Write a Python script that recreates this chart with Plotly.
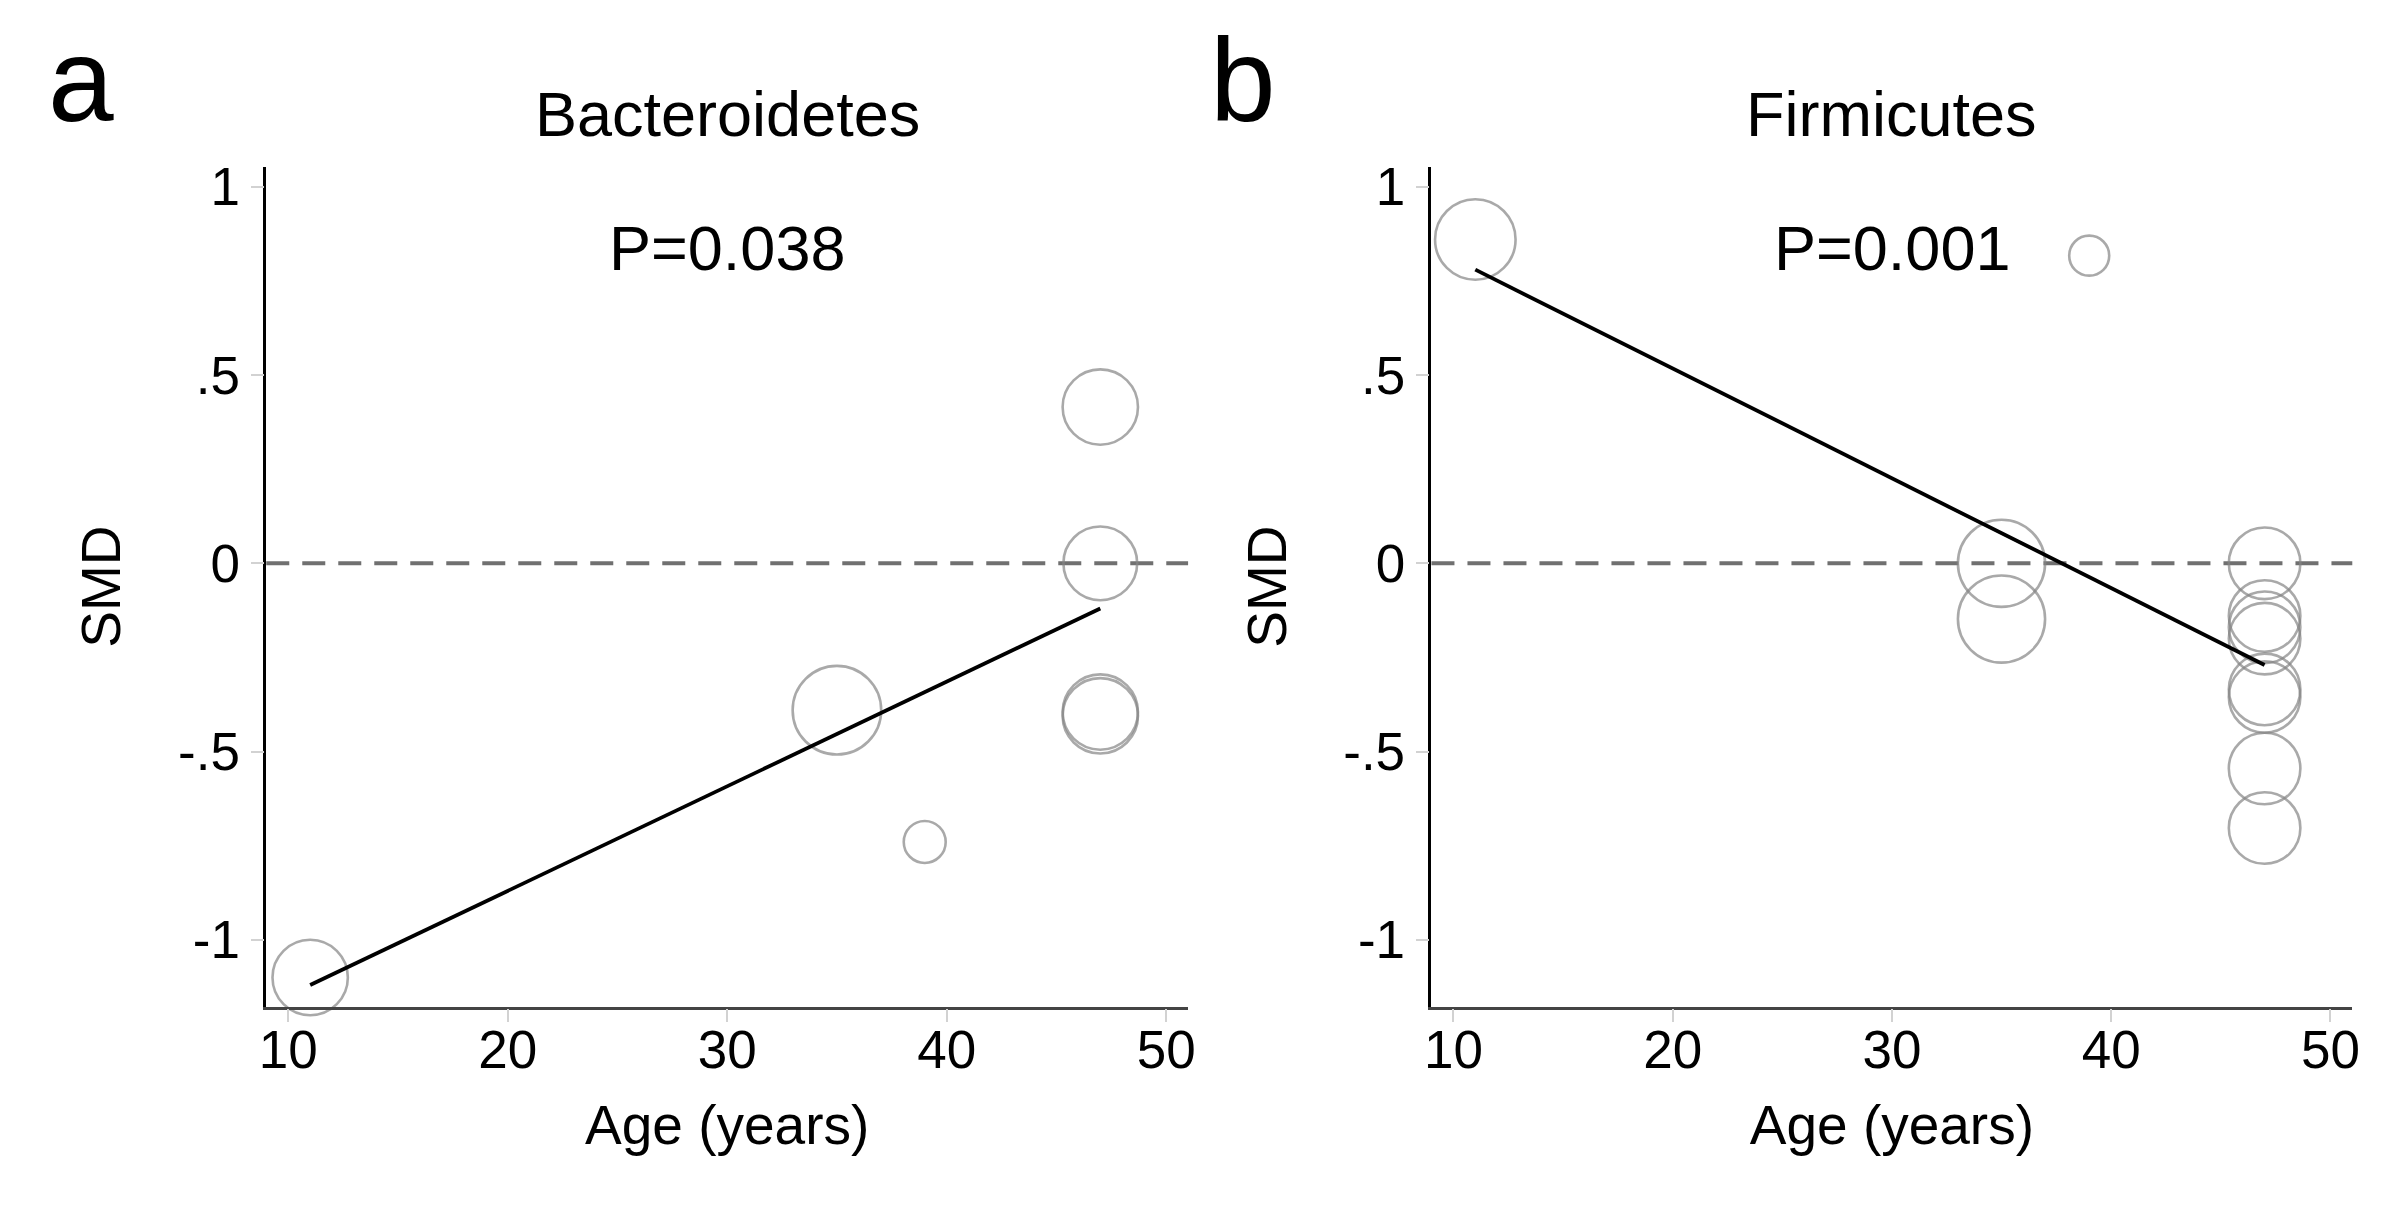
import plotly.graph_objects as go

# Bacteroidetes (panel a)
bac_age = [11, 35, 39, 47, 47, 47, 47]
bac_smd = [-1.10, -0.39, -0.74, 0.415, 0.0, -0.395, -0.405]
bac_weight = [7.1, 9.8, 2.2, 7.1, 6.8, 7.1, 7.1]
bac_fit_age = [11, 47]
bac_fit_smd = [-1.12, -0.12]

# Firmicutes (panel b)
fir_age = [11, 39, 35, 35, 47, 47, 47, 47, 47, 47, 47, 47]
fir_smd = [0.86, 0.817, 0.0, -0.148, 0.0, -0.14, -0.17, -0.20, -0.335, -0.355, -0.545, -0.703]
fir_weight = [8.1, 2.0, 9.5, 9.5, 6.4, 6.4, 6.4, 6.4, 6.4, 6.4, 6.4, 6.4]
fir_fit_age = [11, 47]
fir_fit_smd = [0.78, -0.27]

titles = ["Bacteroidetes", "Firmicutes"]
p_values = ["P=0.038", "P=0.001"]
panel_labels = ["a", "b"]

x_ticks = [10, 20, 30, 40, 50]
y_ticks = [1, 0.5, 0, -0.5, -1]
y_ticktext = ["1", ".5", "0", "-.5", "-1"]

FONT = "Liberation Sans, Arial, sans-serif"
circle_col = "#858585"

fig = go.Figure()

panels = [
    (bac_age, bac_smd, bac_weight, bac_fit_age, bac_fit_smd, "x", "y"),
    (fir_age, fir_smd, fir_weight, fir_fit_age, fir_fit_smd, "x2", "y2"),
]
for age, smd, w, fa, fs, xa, ya in panels:
    fig.add_trace(go.Scatter(
        x=age, y=smd, mode="markers", xaxis=xa, yaxis=ya,
        marker=dict(symbol="circle-open", size=w, sizemode="area", sizeref=0.0025,
                    color=circle_col, line=dict(width=2.6, color=circle_col)),
        showlegend=False, cliponaxis=False
    ))
    fig.add_trace(go.Scatter(
        x=fa, y=fs, mode="lines", xaxis=xa, yaxis=ya,
        line=dict(color="black", width=3.8), showlegend=False
    ))

axis_common = dict(
    showgrid=False, zeroline=False, showline=True, linewidth=2.5,
    ticks="outside", ticklen=13, tickwidth=2, tickcolor="#d2d2d2",
    tickfont=dict(family=FONT, size=53, color="black"),
    title_font=dict(family=FONT, size=55, color="black"),
)

xdoms = [[260 / 2404, 1188 / 2404], [1433 / 2404, 2360 / 2404]]
ydom = [1 - 1005 / 1206, 1 - 159 / 1206]

layout = dict(
    width=2404, height=1206, autosize=False,
    margin=dict(l=0, r=0, t=0, b=0),
    paper_bgcolor="white", plot_bgcolor="white",
    font=dict(family=FONT, color="black"),
)
for i in range(2):
    sfx = "" if i == 0 else str(i + 1)
    layout["xaxis" + sfx] = dict(
        axis_common, domain=xdoms[i], range=[9.0, 51.0],
        tickvals=x_ticks, linecolor="#444444", ticklabelstandoff=-18,
        title=dict(text="Age (years)", standoff=28),
        anchor="y" + sfx,
    )
    layout["yaxis" + sfx] = dict(
        axis_common, domain=ydom, range=[-1.177, 1.053],
        tickvals=y_ticks, ticktext=y_ticktext, linecolor="black",
        title=dict(text="SMD", standoff=40),
        anchor="x" + sfx,
    )
fig.update_layout(**layout)

for i in range(2):
    sfx = "" if i == 0 else str(i + 1)
    fig.add_shape(type="line", xref="x" + sfx + " domain", yref="y" + sfx,
                  x0=0, x1=1, y0=0, y1=0, layer="below",
                  line=dict(color="#707070", width=4, dash="23px,13px"))
    fig.add_annotation(
        text=titles[i], xref="x" + sfx + " domain", yref="paper",
        x=0.5, y=1 - 106 / 1206, xanchor="center", yanchor="middle",
        showarrow=False, font=dict(family=FONT, size=63, color="black"),
    )
    fig.add_annotation(
        text=p_values[i], xref="x" + sfx, yref="y" + sfx,
        x=30, y=0.838, xanchor="center", yanchor="middle",
        showarrow=False, font=dict(family=FONT, size=63, color="black"),
    )
    fig.add_annotation(
        text=panel_labels[i], xref="paper", yref="paper",
        x=[38 / 2404, 1208 / 2404][i], y=1 - 72 / 1206,
        xanchor="left", yanchor="middle",
        showarrow=False, font=dict(family=FONT, size=118, color="black"),
    )

fig.write_html("out.html", config={"displayModeBar": False},
               post_script="document.body.style.margin='0';document.body.style.overflow='hidden';")
